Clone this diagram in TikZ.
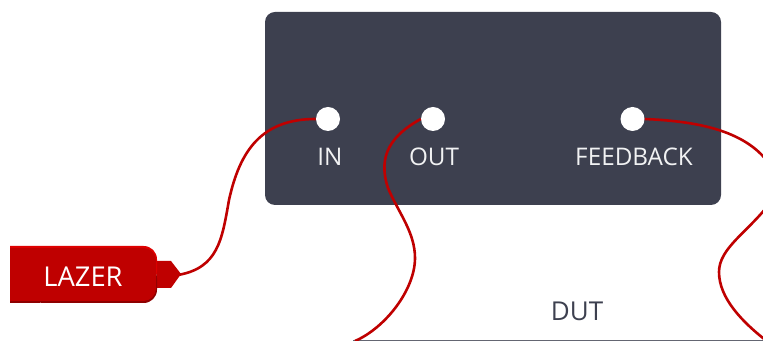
\documentclass[tikz,border=0pt]{standalone}
\usepackage{fontspec}
\setmainfont{Open Sans}
\definecolor{panel}{HTML}{3D404F}
\definecolor{wire}{HTML}{BF0000}
\definecolor{lazerdark}{HTML}{8E0000}
\definecolor{lazertop}{HTML}{DE0000}
\tikzset{
  panelbox/.style={fill=panel,rounded corners=7.5pt},
  port/.style={circle,fill=white,minimum size=18pt,inner sep=0pt},
  portlabel/.style={text=white!93!panel,font=\fontsize{18.2}{20}\selectfont,inner sep=0pt,anchor=center},
  wireline/.style={draw=wire,line width=1.95pt},
}
\begin{document}
\begin{tikzpicture}[x=0.75pt,y=-0.75pt]
\useasboundingbox (0,0) rectangle (763,341);
\clip (0,0) rectangle (763,341);
% panel
\node[panelbox,minimum width=342pt,minimum height=144.75pt,inner sep=0pt] (panel) at (493,108.5) {};
% DUT
\coordinate (dutL) at (353,340.5);
\coordinate (dutR) at (763,340.5);
\draw[draw=panel!80!white,line width=1pt] (dutL) -- (dutR);
\node[text=panel,font=\fontsize{19.5}{22}\selectfont,inner sep=0pt] (dut) at (577,311) {DUT};
% lazer
\fill[wire] (157,261) -- (171,261) -- (181,274) -- (171,288) -- (157,288) -- cycle;
\fill[lazertop,rounded corners=10pt] (10,246) -- (157,246) -- (157,285) -- (10,285) [sharp corners] -- cycle;
\fill[lazerdark,rounded corners=10pt] (157,265) -- (157,303) -- (30,303) -- (30,265) -- cycle;
\fill[lazerdark] (10,270) rectangle (40,303);
\fill[wire,rounded corners=9.5pt] (40,248) -- (156,248) -- (156,301) -- (40,301) -- cycle;
\fill[wire] (10,248) rectangle (60,301);
\node[text=white,font=\fontsize{20.5}{22}\selectfont,inner sep=0pt] (lazer) at (83,276.5) {LAZER};
\coordinate (lazertip) at (178,275);
% ports
\node[port] (in) at (328,119) {};
\node[port] (out) at (433,119) {};
\node[port] (fb) at (632.5,119) {};
\node[portlabel] (inl) at (330,157) {IN};
\node[portlabel] (outl) at (434,157) {OUT};
\node[portlabel] (fbl) at (634,157) {FEEDBACK};
% wires
\draw[wireline] (in.west) .. controls (262,119) and (240,150) .. (229,200) .. controls (222,240) and (218,268) .. (lazertip);
\draw[wireline] (out.west) .. controls (392,135) and (377,155) .. (388,188) .. controls (398,212) and (415,232) .. (415,258) .. controls (415,290) and (385,328) .. (355,341);
\coordinate (fbend) at (770,165);
\coordinate (fbstart) at (770,203);
\coordinate (fbexit) at (768,342);
\draw[wireline] (fb.east) .. controls (690,121) and (745,128) .. (fbend);
\draw[wireline] (fbstart) .. controls (748,232) and (719,248) .. (719,272) .. controls (719,298) and (742,322) .. (fbexit);
\end{tikzpicture}
\end{document}
